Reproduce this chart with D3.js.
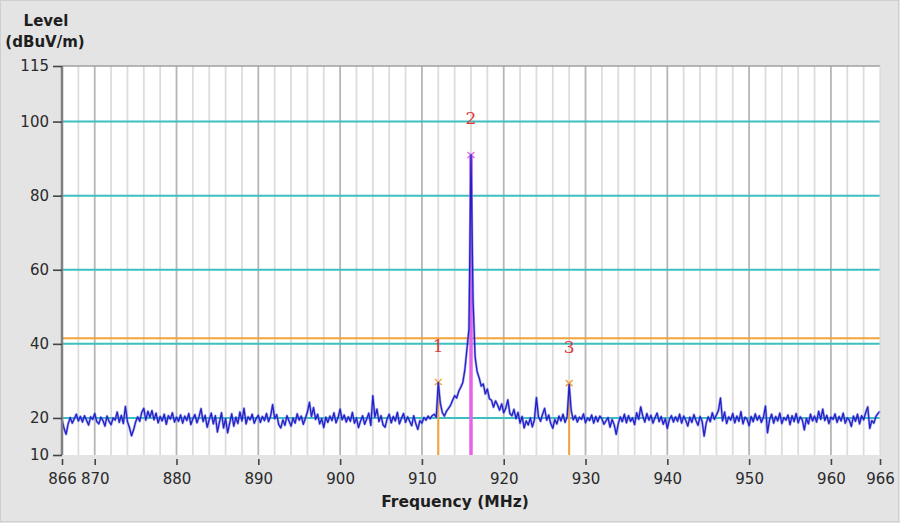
<!DOCTYPE html>
<html>
<head>
<meta charset="utf-8">
<title>Level vs Frequency</title>
<script src="https://d3js.org/d3.v7.min.js"></script>
<style>
  body {margin:0; background:#e4e4e4;}
  svg text {font-family:"DejaVu Sans", Verdana, sans-serif;}
</style>
</head>
<body>
<svg id="chart" width="900" height="523"></svg>
<script>
// trace, 866..966 MHz every 0.25 MHz (dBuV/m)
var startMHz = 866, stepMHz = 0.25;
var level = [
  19.5,17.2,15.6,18.4,20.1,18.6,19.8,21.0,19.2,20.4,18.9,20.6,19.4,18.1,20.3,19.6,21.2,19.0,18.4,20.2,
  19.3,17.8,20.5,19.1,18.2,20.0,19.4,21.6,18.8,20.7,18.5,23.1,19.0,17.4,15.2,16.8,18.9,20.3,19.1,21.5,
  22.6,19.4,21.8,20.2,22.0,19.5,21.3,18.7,20.4,19.2,21.0,18.3,20.6,19.7,21.4,18.9,20.2,19.1,20.8,18.6,
  20.5,19.3,21.2,18.2,19.8,20.9,18.7,20.3,22.5,19.0,20.7,17.5,19.6,21.3,18.4,20.6,16.2,18.9,21.4,17.3,
  19.8,16.0,18.6,21.1,17.8,20.2,18.5,21.6,19.2,22.6,18.4,20.3,19.5,21.0,18.6,19.9,20.7,18.8,20.4,19.3,
  21.2,19.0,20.5,23.6,19.8,20.9,18.2,17.3,19.5,18.0,20.6,19.2,17.8,20.0,18.6,21.1,19.4,20.5,18.3,19.9,
  21.6,24.2,20.4,22.8,19.6,21.0,18.4,19.8,17.4,20.2,18.8,20.5,19.3,21.4,18.7,20.1,22.4,19.5,20.8,18.9,
  20.3,19.1,21.5,18.6,20.0,17.4,19.2,20.6,18.3,19.7,21.3,18.0,26.0,20.2,22.4,19.0,20.6,18.1,17.5,19.8,
  21.0,18.7,20.4,19.2,21.5,18.4,19.9,21.2,18.8,20.3,19.1,17.9,20.6,18.5,16.9,19.3,18.6,20.1,19.4,20.5,
  19.8,20.6,21.0,20.2,29.5,24.0,21.4,20.5,21.8,22.6,23.4,24.8,26.0,25.4,27.2,28.3,29.6,33.0,38.5,44.0,
  91.0,52.0,36.5,32.5,30.8,28.6,29.2,26.5,27.8,25.2,24.8,22.9,24.6,23.5,22.1,23.8,21.4,22.6,24.9,21.2,
  20.6,22.3,19.8,21.5,18.6,20.4,17.3,19.2,18.1,20.0,17.6,19.5,25.5,20.3,19.1,21.0,22.6,19.4,20.8,18.5,
  17.2,19.6,18.4,20.5,19.2,21.0,18.8,20.3,29.0,22.0,19.5,20.6,18.9,20.2,19.6,21.1,18.7,20.0,19.3,20.8,
  18.6,20.4,19.0,20.5,19.8,18.3,19.2,20.1,17.5,19.6,18.2,15.6,18.4,20.3,19.0,21.0,18.7,20.6,19.1,20.0,
  18.2,21.4,19.6,23.0,20.5,18.9,21.2,19.4,20.7,18.6,20.1,21.3,19.0,20.4,18.3,19.8,17.2,19.5,20.6,18.9,
  20.3,19.1,21.0,18.6,20.5,19.4,17.8,20.2,18.8,20.9,19.3,18.0,20.4,19.2,15.1,18.6,20.3,19.0,21.4,19.6,
  20.8,22.0,25.4,19.2,21.6,18.5,20.3,19.4,21.2,18.7,20.5,19.1,21.7,18.4,20.2,19.6,17.9,20.4,19.0,21.1,
  19.4,20.6,18.8,20.2,23.2,16.0,19.5,21.0,18.6,20.4,19.2,21.3,18.5,20.1,19.4,20.8,18.2,20.6,19.0,21.2,
  18.7,20.3,19.5,16.8,19.9,18.4,21.0,19.2,20.5,18.9,21.8,19.6,22.4,19.3,20.7,18.5,20.2,19.6,21.1,18.8,
  20.4,19.2,21.3,18.6,20.0,19.4,17.7,20.5,19.1,21.0,18.4,20.6,19.5,21.4,23.0,17.2,19.3,18.6,20.4,21.2,
  21.8
];
var yTicks = [10, 20, 40, 60, 80, 100, 115];
var xTicks = [866, 870, 880, 890, 900, 910, 920, 930, 940, 950, 960, 966];
var levelLines = [20, 40, 60, 80, 100];
var limitLine = 41.5;
var markerNames = ["1", "2", "3"];
var markerFreq = [912, 916, 928];
var markerLevel = [29.7, 91.0, 29.4];
var markerColor = ["#f2a43a", "#e862e8", "#f2a43a"];

var svg = d3.select("#chart");
var pL = 62, pR = 880, pT = 66, pB = 455;

svg.append("rect").attr("x", 0.5).attr("y", 0.5).attr("width", 898).attr("height", 521)
   .attr("fill", "#e4e4e4").attr("stroke", "#cfcfcf");

var x = d3.scaleLinear().domain([866, 966]).range([pL, pR]);
var y = d3.scaleLinear().domain([10, 115]).range([pB, pT]);

svg.append("rect").attr("x", pL).attr("y", pT)
   .attr("width", pR - pL).attr("height", pB - pT).attr("fill", "#ffffff");

// vertical grid every 2 MHz, darker each 10
var vg = d3.range(868, 966, 2);
svg.append("g").selectAll("line").data(vg).enter().append("line")
   .attr("x1", d => x(d)).attr("x2", d => x(d))
   .attr("y1", pT).attr("y2", pB)
   .attr("stroke", d => d % 10 === 0 ? "#b6b6b6" : "#dcdcdc")
   .attr("stroke-width", 1.8);

// horizontal level lines
svg.append("g").selectAll("line").data(levelLines).enter().append("line")
   .attr("x1", pL).attr("x2", pR)
   .attr("y1", d => y(d)).attr("y2", d => y(d))
   .attr("stroke", "#3cbfc0").attr("stroke-width", 2);

svg.append("line").attr("x1", pL).attr("x2", pR)
   .attr("y1", y(limitLine)).attr("y2", y(limitLine))
   .attr("stroke", "#f2a43a").attr("stroke-width", 2);

// marker drop lines
var mk = svg.append("g");
markerFreq.forEach(function (f, i) {
  mk.append("line").attr("x1", x(f)).attr("x2", x(f))
    .attr("y1", y(markerLevel[i])).attr("y2", pB)
    .attr("stroke", markerColor[i]).attr("stroke-width", i === 1 ? 3.5 : 2);
});

// trace: soft halo then the dark line
var line = d3.line().x((d, i) => x(startMHz + i * stepMHz)).y(d => y(d));
svg.append("path").datum(level).attr("d", line)
   .attr("fill", "none").attr("stroke", "#6b6bf0").attr("stroke-width", 2.6)
   .attr("stroke-opacity", 0.55).attr("stroke-linejoin", "round");
svg.append("path").datum(level).attr("d", line)
   .attr("fill", "none").attr("stroke", "#2222c4").attr("stroke-width", 1.3)
   .attr("stroke-linejoin", "round");

// marker crosses and labels
markerFreq.forEach(function (f, i) {
  var cx = x(f), cy = y(markerLevel[i]);
  mk.append("path").attr("d", "M" + (cx - 3.5) + "," + (cy - 3) + "L" + (cx + 3.5) + "," + (cy + 3) +
      "M" + (cx + 3.5) + "," + (cy - 3) + "L" + (cx - 3.5) + "," + (cy + 3))
    .attr("stroke", markerColor[i]).attr("stroke-width", 1.4);
  svg.append("text").attr("x", cx).attr("y", cy - 35)
     .attr("text-anchor", "middle").attr("dominant-baseline", "middle")
     .style("font-family", "'DejaVu Serif', 'Liberation Serif', serif")
     .attr("font-size", 17).attr("fill", "#d83a3a").text(markerNames[i]);
});

// frame
svg.append("line").attr("x1", pL).attr("x2", pR).attr("y1", pT).attr("y2", pT)
   .attr("stroke", "#a0a0a0").attr("stroke-width", 1.5);
svg.append("line").attr("x1", pR).attr("x2", pR).attr("y1", pT).attr("y2", pB)
   .attr("stroke", "#d4d4d4").attr("stroke-width", 1);

// y axis
var ya = svg.append("g").attr("transform", "translate(" + pL + ",0)")
  .call(d3.axisLeft(y).tickValues(yTicks).tickSize(9).tickPadding(4).tickFormat(d3.format("d")));
ya.select(".domain").attr("stroke", "#808080").attr("stroke-width", 2.5).attr("d", "M0," + pT + "V" + pB);
ya.selectAll(".tick line").attr("stroke", "#444").attr("stroke-width", 1.6);
ya.selectAll("text").attr("font-size", 15).attr("fill", "#2a2a2a");

// x axis
var xa = svg.append("g").attr("transform", "translate(0," + (pB + 4) + ")")
  .call(d3.axisBottom(x).tickValues(xTicks).tickSize(6).tickPadding(8).tickFormat(d3.format("d")));
xa.select(".domain").remove();
xa.selectAll(".tick line").attr("stroke", "#444").attr("stroke-width", 1.6);
xa.selectAll("text").attr("font-size", 15).attr("fill", "#2a2a2a");

// titles
svg.append("text").attr("x", 46).attr("y", 26).attr("text-anchor", "middle")
   .attr("font-size", 15).attr("font-weight", "bold").attr("fill", "#1e1e1e").text("Level");
svg.append("text").attr("x", 45).attr("y", 47).attr("text-anchor", "middle")
   .attr("font-size", 15).attr("font-weight", "bold").attr("fill", "#1e1e1e").text("(dBuV/m)");
svg.append("text").attr("x", 455).attr("y", 507).attr("text-anchor", "middle")
   .attr("font-size", 15.5).attr("font-weight", "bold").attr("fill", "#1e1e1e").text("Frequency (MHz)");
</script>
</body>
</html>
